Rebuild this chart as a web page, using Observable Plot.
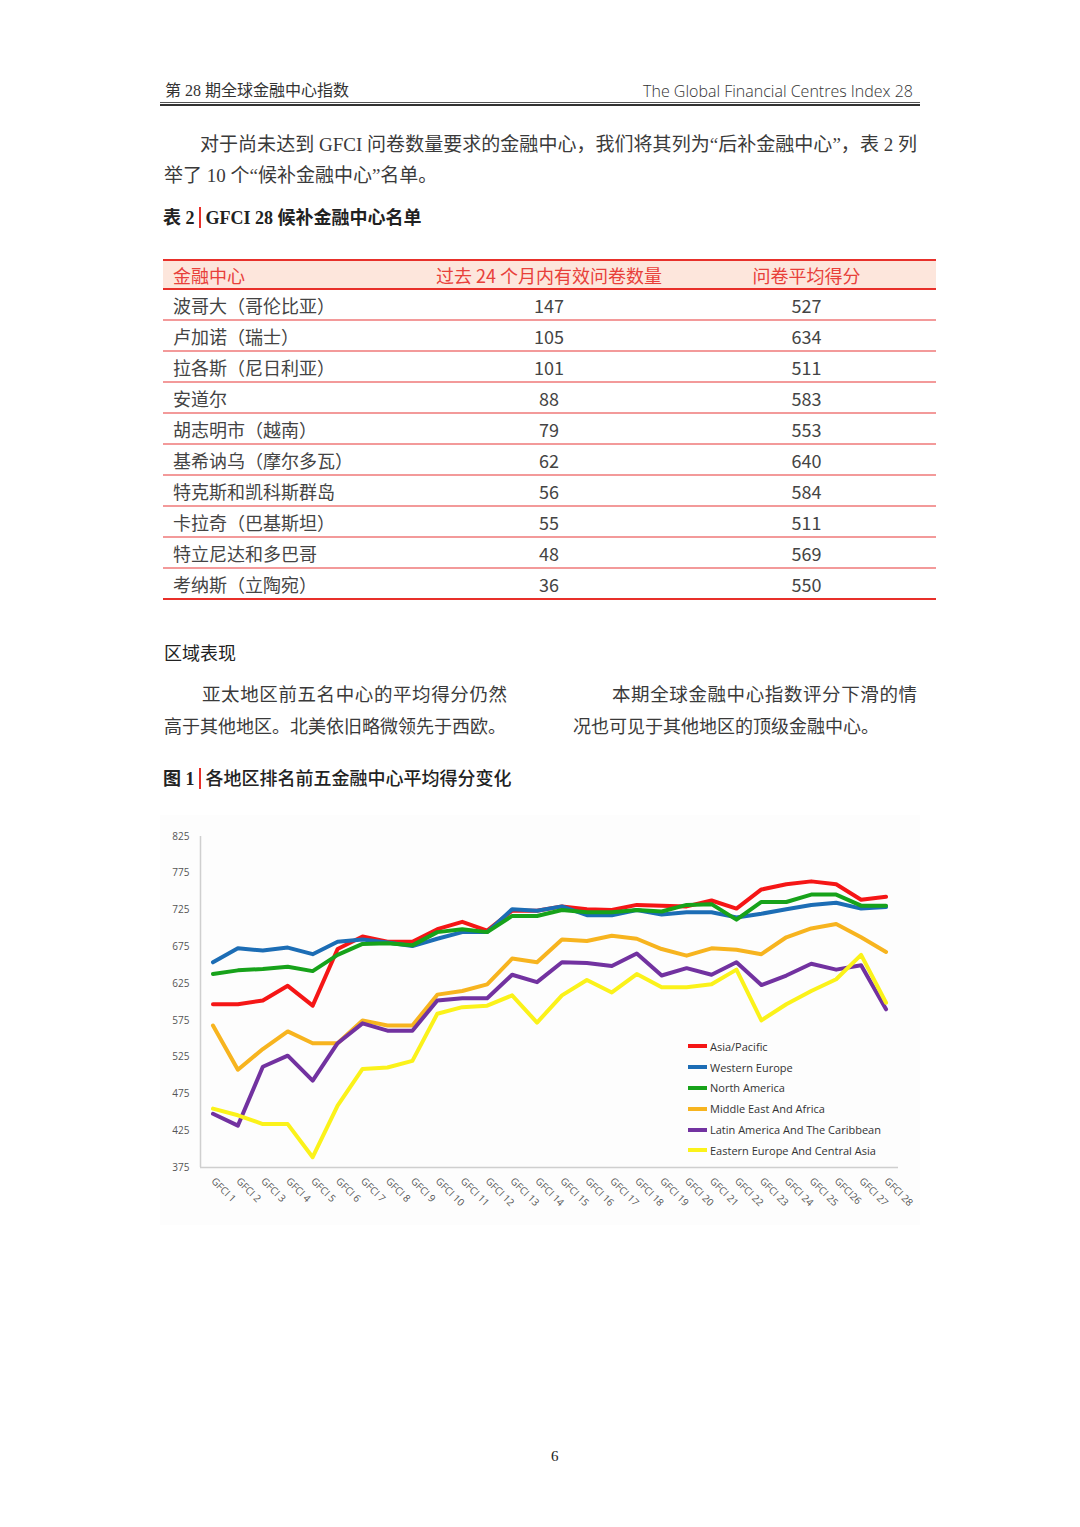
<!DOCTYPE html>
<html>
<head>
<meta charset="utf-8">
<script src="https://cdn.jsdelivr.net/npm/d3@7"></script>
<script src="https://cdn.jsdelivr.net/npm/@observablehq/plot@0.6"></script>
<style>
  html, body { margin: 0; padding: 0; background: #fff; }
  body { width: 1080px; height: 1527px; position: relative; overflow: hidden;
         font-family: "Liberation Serif", "Noto Sans CJK SC", serif; color: #333; }
  .abs { position: absolute; white-space: nowrap; }
  .hdr { font-size: 16px; line-height: 20px; color: #333; }
  .para { font-size: 19px; line-height: 24px; color: #3a3a3a; }
  .just { text-align: justify; text-align-last: justify; white-space: normal; }
  .ttl { font-size: 18px; line-height: 24px; font-weight: 700; color: #222; }
  .bar { display: inline-block; width: 2px; height: 21px; background: #e8302a; vertical-align: -4px; margin: 0 5px 0 4px; }
  #table { position: absolute; left: 163px; top: 259px; width: 773px;
           font-family: "Noto Sans CJK SC", sans-serif; font-size: 18px; }
  .row { display: flex; height: 31px; box-sizing: border-box; align-items: center; color: #444; }
  .row.head { background: #fde6dc; border-top: 2px solid #e8302a; border-bottom: 2px solid #e8302a; color: #e8403a; }
  .row.body { border-bottom: 2px solid #f39a9a; }
  .row.last { border-bottom: 2px solid #e8302a; }
  .c1 { width: 240px; padding-left: 10px; box-sizing: border-box; }
  .c2 { width: 292px; text-align: center; }
  .c3 { width: 241px; text-align: center; padding-right: 18px; box-sizing: border-box; }
  #chart { position: absolute; left: 160px; top: 815px; width: 760px; height: 410px; background: #fdfdfd; }
  #legend { position: absolute; left: 688px; top: 1036px; font-family: "Open Sans", sans-serif; font-size: 11px; color: #333; }
  .lg { height: 20.8px; display: flex; align-items: center; }
  .sw { width: 19px; height: 4px; margin-right: 3px; }
</style>
</head>
<body>
<div class="abs hdr" style="left:165px; top:81px;">第 28 期全球金融中心指数</div>
<div class="abs hdr" style="right:167px; top:81px; font-family:'Open Sans', sans-serif; font-weight:300; color:#333;">The Global Financial Centres Index 28</div>
<div class="abs" style="left:160px; top:102px; width:760px; height:1px; background:#555;"></div>
<div class="abs" style="left:160px; top:104px; width:760px; height:2px; background:#333;"></div>

<div class="abs para just" style="left:200px; top:133px; width:717px;">对于尚未达到 GFCI 问卷数量要求的金融中心，我们将其列为“后补金融中心”，表 2 列</div>
<div class="abs para" style="left:164px; top:164px;">举了 10 个“候补金融中心”名单。</div>

<div class="abs ttl" style="left:163px; top:206px;">表 2<span class="bar"></span>GFCI 28 候补金融中心名单</div>

<div id="table"></div>

<div class="abs" style="left:164px; top:639px; font-family:'Noto Sans CJK SC'; font-size:18px; font-weight:400; color:#222;">区域表现</div>
<div class="abs para just" style="left:202px; top:681px; width:305px; font-family:'Noto Sans CJK SC'; font-size:18.5px;">亚太地区前五名中心的平均得分仍然</div>
<div class="abs para" style="left:164px; top:713px; font-family:'Noto Sans CJK SC'; font-size:18px;">高于其他地区。北美依旧略微领先于西欧。</div>
<div class="abs para just" style="left:612px; top:681px; width:305px; font-family:'Noto Sans CJK SC'; font-size:18.5px;">本期全球金融中心指数评分下滑的情</div>
<div class="abs para" style="left:573px; top:713px; font-family:'Noto Sans CJK SC'; font-size:18px;">况也可见于其他地区的顶级金融中心。</div>

<div class="abs ttl" style="left:163px; top:765px;">图 1<span class="bar"></span><span style="font-family:'Noto Sans CJK SC'; font-weight:500;">各地区排名前五金融中心平均得分变化</span></div>

<div id="chart"></div>
<div id="legend"></div>

<div class="abs" style="left:551px; top:1448px; font-size:15px; color:#222;">6</div>

<script>
// ---- Table data ----
const tableHeaders = ["金融中心", "过去 24 个月内有效问卷数量", "问卷平均得分"];
const centres = ["波哥大（哥伦比亚）", "卢加诺（瑞士）", "拉各斯（尼日利亚）", "安道尔", "胡志明市（越南）",
  "基希讷乌（摩尔多瓦）", "特克斯和凯科斯群岛", "卡拉奇（巴基斯坦）", "特立尼达和多巴哥", "考纳斯（立陶宛）"];
const responses = [147, 105, 101, 88, 79, 62, 56, 55, 48, 36];
const avgScores = [527, 634, 511, 583, 553, 640, 584, 511, 569, 550];

// ---- Chart data ----
const gfciLabels = ["GFCI 1","GFCI 2","GFCI 3","GFCI 4","GFCI 5","GFCI 6","GFCI 7","GFCI 8","GFCI 9","GFCI 10",
  "GFCI 11","GFCI 12","GFCI 13","GFCI 14","GFCI 15","GFCI 16","GFCI 17","GFCI 18","GFCI 19","GFCI 20",
  "GFCI 21","GFCI 22","GFCI 23","GFCI 24","GFCI 25","GFCI26","GFCI 27","GFCI 28"];
const yTicks = [375, 425, 475, 525, 575, 625, 675, 725, 775, 825];
const regions = ["Asia/Pacific", "Western Europe", "North America", "Middle East And Africa",
  "Latin America And The Caribbean", "Eastern Europe And Central Asia"];
const regionColors = ["#f51616", "#1c6db5", "#17a21a", "#f7b41f", "#7232a0", "#fbf21a"];
const asiaPacific = [597,597,602,622,595,672,689,682,682,699,709,697,724,724,730,726,725,732,731,730,738,727,753,760,764,760,739,743];
const westernEurope = [654,673,670,674,665,682,685,681,676,686,695,695,726,724,730,718,718,725,719,722,722,715,720,726,732,735,727,729];
const northAmerica = [638,643,645,648,642,664,679,680,677,695,699,695,717,717,725,722,722,725,723,732,733,712,736,736,746,746,731,731];
const middleEastAfrica = [568,508,536,560,544,544,575,568,568,610,615,624,659,654,685,683,690,686,672,663,673,671,665,688,700,706,688,668];
const latinAmerica = [448,432,512,527,493,544,571,561,561,602,605,605,637,627,654,653,649,666,636,646,637,654,623,636,652,644,650,590];
const easternEurope = [455,446,434,434,389,459,509,511,520,584,593,595,609,572,609,630,613,638,620,620,624,644,575,597,615,631,664,599];

// ---- Build table ----
const tbl = document.getElementById("table");
const mkRow = (cells, cls) => {
  const r = document.createElement("div");
  r.className = "row " + cls;
  ["c1", "c2", "c3"].forEach((c, k) => {
    const d = document.createElement("div");
    d.className = c; d.textContent = cells[k];
    r.appendChild(d);
  });
  tbl.appendChild(r);
};
mkRow(tableHeaders, "head");
centres.forEach((c, i) => mkRow([c, responses[i], avgScores[i]], i === centres.length - 1 ? "last" : "body"));

// ---- Build chart ----
const seriesValues = [asiaPacific, westernEurope, northAmerica, middleEastAfrica, latinAmerica, easternEurope];
const data = regions.flatMap((r, k) => seriesValues[k].map((v, i) => ({gfci: i + 1, score: v, region: r})));

const plot = Plot.plot({
  width: 760,
  height: 410,
  marginLeft: 40,
  marginRight: 22,
  marginTop: 21,
  marginBottom: 58,
  style: {fontFamily: "'Open Sans', sans-serif", fontSize: "10px", color: "#555", background: "transparent", overflow: "visible"},
  x: {domain: [0.5, 28.5], ticks: d3.range(1, 29), tickFormat: d => gfciLabels[d - 1], tickRotate: 45, tickSize: 0, tickPadding: 12, label: null},
  y: {domain: [375, 825], ticks: yTicks, tickSize: 0, tickPadding: 11, label: null},
  color: {domain: regions, range: regionColors},
  marks: [
    Plot.ruleY([375], {stroke: "#cfcfcf", strokeWidth: 1.5}),
    Plot.ruleX([0.5], {y1: 375, y2: 825, stroke: "#cfcfcf", strokeWidth: 1.5}),
    Plot.lineY(data, {x: "gfci", y: "score", z: "region", stroke: "region", strokeWidth: 4, strokeLinejoin: "round"})
  ]
});
document.getElementById("chart").appendChild(plot);

// ---- Legend ----
const lg = document.getElementById("legend");
regions.forEach((r, k) => {
  const row = document.createElement("div");
  row.className = "lg";
  row.innerHTML = `<span class="sw" style="background:${regionColors[k]}"></span><span>${r}</span>`;
  lg.appendChild(row);
});
</script>
</body>
</html>
